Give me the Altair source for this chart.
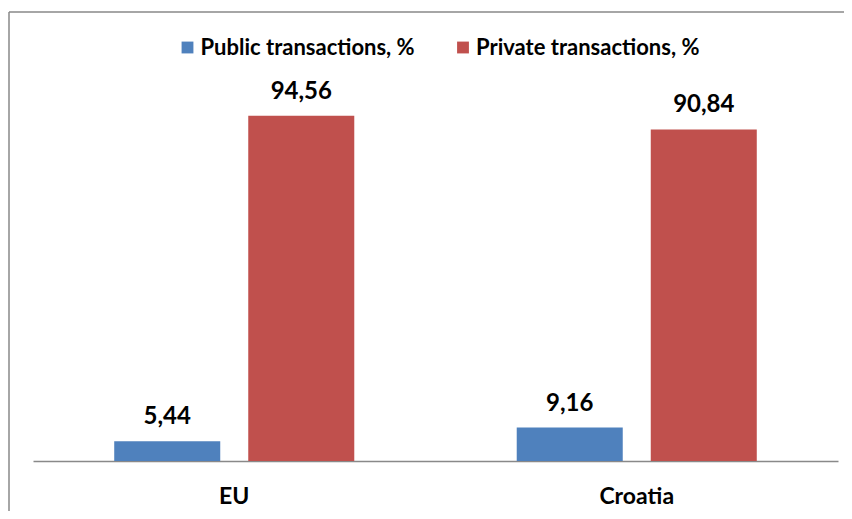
import altair as alt
import pandas as pd

categories = ["EU", "Croatia"]
series_names = ["Public transactions, %", "Private transactions, %"]
public_vals = [5.44, 9.16]
private_vals = [94.56, 90.84]
colors = ["#4F81BD", "#C0504D"]

rows = []
for i, c in enumerate(categories):
    rows.append({"country": c, "series": series_names[0], "value": public_vals[i]})
    rows.append({"country": c, "series": series_names[1], "value": private_vals[i]})
df = pd.DataFrame(rows)

yscale = alt.Scale(domain=[-13.7, 123.0], nice=False, zero=False)

base = alt.Chart(df).transform_calculate(
    label="replace(format(datum.value, '.2f'), '.', ',')"
).encode(
    x=alt.X(
        "country:N",
        sort=categories,
        scale=alt.Scale(range=[24, 829], paddingInner=0, paddingOuter=0),
        axis=alt.Axis(
            title=None, orient="bottom", offset=-50, domainColor="#898989",
            domainWidth=1.5, ticks=False, labelAngle=0, labelFont="Lato",
            labelFontWeight="bold", labelFontSize=23, labelColor="#000000",
            labelBaseline="alphabetic", labelPadding=42, grid=False,
        ),
    ),
    xOffset=alt.XOffset(
        "series:N", sort=series_names,
        scale=alt.Scale(paddingInner=0.209, paddingOuter=0.606),
    ),
)

bars = base.mark_bar().encode(
    y=alt.Y("value:Q", scale=yscale, axis=None),
    y2=alt.datum(0),
    color=alt.Color(
        "series:N", sort=series_names,
        scale=alt.Scale(domain=series_names, range=colors),
        legend=alt.Legend(
            title=None, orient="none", legendX=167.5, legendY=24.5,
            direction="horizontal", symbolType="square", symbolSize=140,
            symbolStrokeWidth=0, labelFont="Lato", labelFontWeight="bold",
            labelFontSize=22, labelColor="#000000", labelOffset=2,
            columnPadding=36.5, labelLimit=500, padding=0,
        ),
    ),
)

labels = base.mark_text(
    font="Lato", fontWeight="bold", fontSize=24, baseline="alphabetic",
    dy=-17, color="#000000",
).encode(
    y=alt.Y("value:Q", scale=yscale, axis=None),
    text="label:N",
)

top_border = alt.Chart(pd.DataFrame({"b": [0]})).mark_rule(
    color="#898989", strokeWidth=1.5
).encode(x=alt.value(0), x2=alt.value(900), y=alt.value(0))

left_border = alt.Chart(pd.DataFrame({"b": [0]})).mark_rule(
    color="#898989", strokeWidth=1.5
).encode(x=alt.value(0), y=alt.value(0), y2=alt.value(600))

chart = alt.layer(bars, labels, top_border, left_border).properties(
    width=835, height=499,
    padding={"left": 1, "top": 4, "right": 0, "bottom": 0},
    autosize=alt.AutoSizeParams(type="none"),
    background="white",
).configure_view(stroke=None)

chart.save("out.html", embed_options={"renderer": "svg", "actions": False})
